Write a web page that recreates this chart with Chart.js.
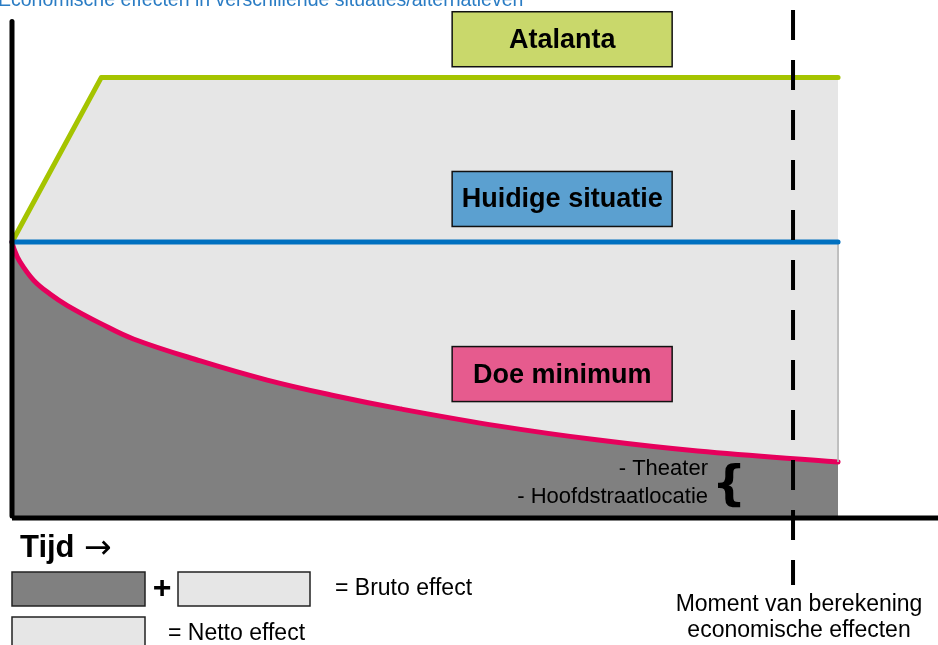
<!DOCTYPE html>
<html>
<head>
<meta charset="utf-8">
<script src="https://cdn.jsdelivr.net/npm/chart.js@4/dist/chart.umd.min.js"></script>
<style>
  html, body { margin: 0; padding: 0; background: #fff; }
  #wrap { width: 938px; height: 645px; position: relative; }
</style>
</head>
<body>
<div id="wrap"><canvas id="chart"></canvas></div>
<script>
// time runs 0..100, effect baseline (huidige situatie) = 100
const doeMinX = [0, 0.25, 0.9, 2.6, 4.6, 6.7, 10.7, 14.7, 22.8, 30.9, 38.9, 47, 59, 71, 83, 100];
const doeMinY = [100, 97.4, 93.1, 86.1, 81.0, 76.8, 70.3, 64.6, 56.6, 49.6, 44.0, 39.1, 32.8, 27.7, 23.7, 19.7];
const atalantaX = [0, 10.8, 100];
const atalantaY = [100, 160, 160];
const huidigX = [0, 100];
const huidigY = [100, 100];
const momentX = 94.55;
const momentY = [184.7, -25.2];

const boxLabels = ['Atalanta', 'Huidige situatie', 'Doe minimum'];
const boxLevels = [174, 115.7, 51.8];   // centre of each label box, in effect units
const boxColors = ['#c9d86b', '#5ba0d0', '#e65b8e'];
const locaties = ['- Theater', '- Hoofdstraatlocatie'];
const titleText = 'Economische effecten in verschillende situaties/alternatieven';

const pts = (xs, ys) => xs.map((x, i) => ({ x: x, y: ys[i] }));
const FONT = '"Liberation Sans", Arial, sans-serif';

const drawing = {
    id: 'drawing',
    afterDatasetsDraw(chart) {
        const ctx = chart.ctx;
        const xs = chart.scales.x, ys = chart.scales.y;
        ctx.save();

        // title (cut at the top edge)
        ctx.fillStyle = '#2a7cc4';
        ctx.font = '19.5px ' + FONT;
        ctx.textAlign = 'left';
        ctx.textBaseline = 'alphabetic';
        ctx.fillText(titleText, -2, 6);

        ctx.textBaseline = 'middle';

        // label boxes
        const cx = xs.getPixelForValue(66.6);
        boxLabels.forEach((t, i) => {
            const cy = ys.getPixelForValue(boxLevels[i]);
            ctx.fillStyle = boxColors[i];
            ctx.fillRect(cx - 110, cy - 27.5, 220, 55);
            ctx.strokeStyle = '#111';
            ctx.lineWidth = 1.5;
            ctx.strokeRect(cx - 110, cy - 27.5, 220, 55);
            ctx.fillStyle = '#000';
            ctx.font = 'bold 27px ' + FONT;
            ctx.textAlign = 'center';
            ctx.fillText(t, cx, cy + 1);
        });

        // locaties + brace
        ctx.font = '22px ' + FONT;
        ctx.textAlign = 'right';
        ctx.fillStyle = '#000';
        ctx.fillText(locaties[0], 708, 469);
        ctx.fillText(locaties[1], 708, 497);
        ctx.font = 'bold 48px "DejaVu Sans", sans-serif';
        ctx.textAlign = 'center';
        ctx.fillText('{', 729, 488);

        // x axis title
        ctx.font = 'bold 31px ' + FONT;
        ctx.textAlign = 'left';
        ctx.fillText('Tijd', 20, 548);
        ctx.font = '33px "DejaVu Sans", sans-serif';
        ctx.fillText('\u2192', 84, 549);

        // moment label
        ctx.font = '23px ' + FONT;
        ctx.textAlign = 'center';
        const mx = xs.getPixelForValue(momentX) + 6;
        ctx.fillText('Moment van berekening', mx, 605);
        ctx.fillText('economische effecten', mx, 631);

        // legend
        ctx.lineWidth = 1.5;
        ctx.strokeStyle = '#222';
        ctx.fillStyle = '#808080';
        ctx.fillRect(12, 572, 133, 34); ctx.strokeRect(12, 572, 133, 34);
        ctx.fillStyle = '#e6e6e6';
        ctx.fillRect(178, 572, 132, 34); ctx.strokeRect(178, 572, 132, 34);
        ctx.fillRect(12, 617, 133, 40); ctx.strokeRect(12, 617, 133, 40);
        ctx.fillStyle = '#000';
        ctx.font = 'bold 32px ' + FONT;
        ctx.textAlign = 'center';
        ctx.fillText('+', 162, 589);
        ctx.font = '23px ' + FONT;
        ctx.textAlign = 'left';
        ctx.fillText('= Bruto effect', 335, 589);
        ctx.fillText('= Netto effect', 168, 634);

        ctx.restore();
    }
};

new Chart(document.getElementById('chart'), {
    type: 'line',
    data: {
        datasets: [
            {   // moment van berekening
                data: pts([momentX, momentX], momentY),
                borderColor: '#000', borderWidth: 4, borderDash: [30, 20], fill: false
            },
            {   // x axis
                data: pts([0, 113], [-0.7, -0.7]),
                borderColor: '#000', borderWidth: 5, fill: false
            },
            {   // y axis
                data: pts([0, 0], [0, 180.5]),
                borderColor: '#000', borderWidth: 5, borderCapStyle: 'round', fill: false
            },
            {   // huidige situatie
                data: pts(huidigX, huidigY),
                borderColor: '#0070c0', borderWidth: 5, borderCapStyle: 'round', fill: false
            },
            {   // edge of netto area
                data: pts([100, 100], [100, 19.7]),
                borderColor: '#b8b8b8', borderWidth: 1, fill: false
            },
            {   // doe minimum
                data: pts(doeMinX, doeMinY),
                borderColor: '#e6005c', borderWidth: 5, borderCapStyle: 'round',
                tension: 0.4,
                fill: 'origin', backgroundColor: '#808080'
            },
            {   // atalanta
                data: pts(atalantaX, atalantaY),
                borderColor: '#a5c400', borderWidth: 5, borderCapStyle: 'round', borderJoinStyle: 'round',
                fill: 'origin', backgroundColor: '#e6e6e6'
            }
        ]
    },
    options: {
        responsive: true,
        maintainAspectRatio: false,
        animation: false,
        layout: { padding: 0 },
        elements: { point: { radius: 0, hoverRadius: 0 }, line: { tension: 0 } },
        plugins: { legend: { display: false }, tooltip: { enabled: false } },
        scales: {
            x: { type: 'linear', display: false, min: -1.453, max: 112.1 },
            y: { type: 'linear', display: false, min: -47.08, max: 188.32 }
        }
    },
    plugins: [drawing]
});
</script>
</body>
</html>
